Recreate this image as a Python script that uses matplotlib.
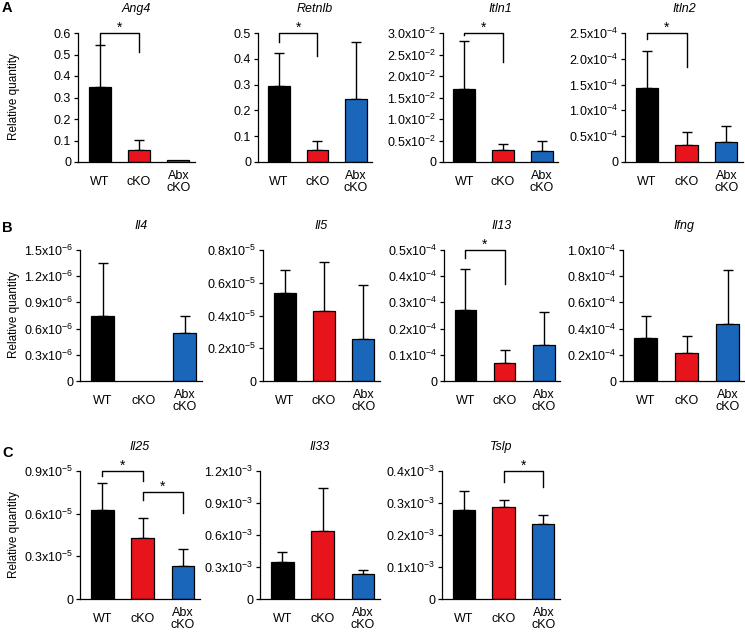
import matplotlib
matplotlib.use("Agg")
import matplotlib.pyplot as plt

plt.rcParams['font.family'] = ['Liberation Sans', 'DejaVu Sans']
plt.rcParams['mathtext.fontset'] = 'custom'
plt.rcParams['mathtext.rm'] = 'Liberation Sans'
plt.rcParams['mathtext.it'] = 'Liberation Sans:italic'

groups = ['WT', 'cKO', 'Abx\ncKO']
colors = ['#000000', '#e8141b', '#1a66bb']

# gene names per panel
genes = ['Ang4', 'Retnlb', 'Itln1', 'Itln2',
         'Il4', 'Il5', 'Il13', 'Ifng',
         'Il25', 'Il33', 'Tslp']

# mean values and upper error (WT, cKO, Abx cKO)
ang4_mean = [0.347, 0.057, 0.008]
ang4_err = [0.196, 0.044, 0.0]
retnlb_mean = [0.296, 0.045, 0.244]
retnlb_err = [0.126, 0.038, 0.221]
itln1_mean = [0.01705, 0.0027, 0.0026]
itln1_err = [0.01115, 0.0015, 0.0024]
itln2_mean = [1.428e-4, 0.323e-4, 0.381e-4]
itln2_err = [0.729e-4, 0.252e-4, 0.323e-4]
il4_mean = [0.746e-6, 0.0, 0.547e-6]
il4_err = [0.601e-6, 0.0, 0.195e-6]
il5_mean = [0.539e-5, 0.429e-5, 0.259e-5]
il5_err = [0.139e-5, 0.300e-5, 0.327e-5]
il13_mean = [0.272e-4, 0.0705e-4, 0.137e-4]
il13_err = [0.154e-4, 0.0495e-4, 0.1245e-4]
ifng_mean = [0.329e-4, 0.217e-4, 0.434e-4]
ifng_err = [0.166e-4, 0.125e-4, 0.413e-4]
il25_mean = [0.628e-5, 0.426e-5, 0.233e-5]
il25_err = [0.186e-5, 0.144e-5, 0.121e-5]
il33_mean = [0.347e-3, 0.642e-3, 0.239e-3]
il33_err = [0.093e-3, 0.397e-3, 0.034e-3]
tslp_mean = [0.277e-3, 0.289e-3, 0.2346e-3]
tslp_err = [0.062e-3, 0.021e-3, 0.029e-3]

means = [ang4_mean, retnlb_mean, itln1_mean, itln2_mean,
         il4_mean, il5_mean, il13_mean, ifng_mean,
         il25_mean, il33_mean, tslp_mean]
errs = [ang4_err, retnlb_err, itln1_err, itln2_err,
        il4_err, il5_err, il13_err, ifng_err,
        il25_err, il33_err, tslp_err]

# axis top, tick step, exponent for tick labels (None = plain)
ytops = [0.6, 0.5, 3.0e-2, 2.5e-4, 1.5e-6, 0.8e-5, 0.5e-4, 1.0e-4, 0.9e-5, 1.2e-3, 0.4e-3]
ysteps = [0.1, 0.1, 0.5e-2, 0.5e-4, 0.3e-6, 0.2e-5, 0.1e-4, 0.2e-4, 0.3e-5, 0.3e-3, 0.1e-3]
yexps = [None, None, -2, -4, -6, -5, -4, -4, -5, -3, -3]

# significance brackets: (bar i, bar j, top, left leg end, right leg end)
sig = {
    0: [(0, 1, 0.6, 0.55, 0.51)],
    1: [(0, 1, 0.5, 0.465, 0.412)],
    2: [(0, 1, 0.030, 0.0296, 0.0233)],
    3: [(0, 1, 2.5e-4, 2.39e-4, 1.85e-4)],
    6: [(0, 1, 0.5e-4, 0.47e-4, 0.372e-4)],
    8: [(0, 1, 0.9e-5, 0.865e-5, 0.832e-5), (1, 2, 0.749e-5, 0.698e-5, 0.605e-5)],
    10: [(1, 2, 0.4e-3, 0.366e-3, 0.351e-3)],
}

W, H = 745, 633
# axes boxes in pixels: left, right, top, bottom
boxes = [(78, 195, 33, 162), (258, 372, 33, 162), (443, 558, 33, 162), (625, 743, 33, 162),
         (80, 202, 250, 381), (263, 380, 250, 381), (444, 560, 250, 381), (623, 745, 250, 381),
         (80, 200, 471, 599), (260, 380, 471, 599), (442, 560, 471, 599)]

fig = plt.figure(figsize=(W / 100, H / 100), dpi=100)


def fmt(v, e):
    if abs(v) < 1e-15:
        return '0'
    if e is None:
        return '%.1f' % v
    return '%.1fx10$^{%d}$' % (v / 10 ** e, e)


for k in range(len(genes)):
    l, r, t, b = boxes[k]
    ax = fig.add_axes([l / W, 1 - b / H, (r - l) / W, (b - t) / H])
    x = [0, 1, 2]
    lws = [0.9 if m > 0 else 0 for m in means[k]]
    ax.bar(x, means[k], width=0.56, color=colors, edgecolor='black', linewidth=lws, zorder=2)
    for i in x:
        if errs[k][i] > 0:
            ax.errorbar(i, means[k][i], yerr=[[0], [errs[k][i]]], fmt='none', ecolor='black',
                        elinewidth=1.0, capsize=3.5, capthick=1.0, zorder=1)
    ax.set_xlim(-0.55, 2.42)
    ax.set_ylim(0, ytops[k])
    n = int(round(ytops[k] / ysteps[k]))
    ticks = [i * ysteps[k] for i in range(n + 1)]
    ax.set_yticks(ticks)
    ax.set_yticklabels([fmt(v, yexps[k]) for v in ticks])
    ax.set_xticks(x)
    ax.set_xticklabels(groups, va='center', linespacing=1.0)
    ax.tick_params(axis='x', length=0, pad=14.5, labelsize=9)
    ax.tick_params(axis='y', length=3, width=0.9, direction='out', labelsize=9, pad=2)
    for s in ['top', 'right']:
        ax.spines[s].set_visible(False)
    for s in ['left', 'bottom']:
        ax.spines[s].set_linewidth(0.9)
    ax.set_title(genes[k], style='italic', fontsize=9, pad=15)
    for (i, j, top, yl, yr) in sig.get(k, []):
        ax.plot([i, i, j, j], [yl, top, top, yr], color='black', lw=1.0, clip_on=False)
        ax.text((i + j) / 2, top + ytops[k] * 0.012, '*', ha='center', va='baseline',
                fontsize=10)

for lab, yy, yc in [('A', 8, 97), ('B', 228, 315), ('C', 453, 535)]:
    fig.text(2 / W, 1 - yy / H, lab, fontsize=10.5, fontweight='bold', va='center', ha='left')
    fig.text(14 / W, 1 - yc / H, 'Relative quantity', rotation=90, fontsize=8.5,
             va='center', ha='center')

fig.savefig('out.png', dpi=100)
